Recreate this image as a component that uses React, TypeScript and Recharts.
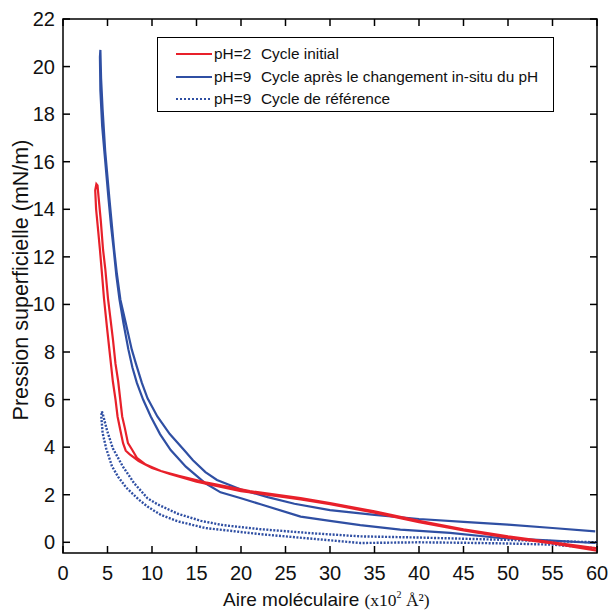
import { LineChart, Line, XAxis, YAxis, ReferenceArea } from "recharts";

// pH=2, cycle initial (compression then expansion)
const redX = [60, 55, 50, 45, 40, 35, 30, 26.7, 21, 16, 13, 11, 9.3, 8.3, 7.75, 7.3, 6.95, 6.65, 6.2, 5.9, 5.62, 5.3, 5.05, 4.75, 4.5, 4.25, 4.0, 3.88, 3.75,
  3.62, 3.72, 3.95, 4.15, 4.4, 4.6, 4.95, 5.3, 5.6, 5.9, 6.13, 6.45, 6.75, 7.05, 7.5, 8.5, 10, 12, 15, 20, 26.7, 30, 35, 40, 45, 50, 55, 60];
const redY = [-0.25, 0.0, 0.25, 0.55, 0.9, 1.3, 1.65, 1.86, 2.15, 2.52, 2.8, 3.0, 3.27, 3.55, 3.9, 4.17, 4.8, 5.29, 6.77, 7.5, 8.5, 9.5, 10.27, 11.5, 12.3, 13.5, 14.5, 15.0, 15.06,
  14.8, 14.0, 13.1, 12.3, 11.2, 10.27, 9.0, 7.8, 6.77, 6.0, 5.29, 4.7, 4.17, 3.85, 3.7, 3.42, 3.12, 2.87, 2.55, 2.15, 1.8, 1.6, 1.25, 0.85, 0.5, 0.2, -0.05, -0.35];

// pH=9, cycle après le changement in-situ du pH
const blueX = [59.8, 55, 50, 45, 40, 35, 30, 26, 23, 20, 17.3, 16, 14.6, 13.6, 12, 10.6, 9.5, 8.86, 8.2, 7.73, 7.0, 6.45, 6.05, 5.75, 5.45, 5.2, 4.74, 4.45, 4.28, 4.2,
  4.15, 4.2, 4.4, 4.68, 5.1, 5.4, 5.7, 6.0, 6.35, 6.8, 7.35, 7.8, 8.3, 9.0, 9.86, 10.9, 12.1, 13.8, 16, 17.7, 20, 22.2, 26.7, 30, 33.4, 37.9, 43.5, 49.1, 55, 59.8];
const blueY = [0.46, 0.6, 0.74, 0.86, 0.98, 1.15, 1.35, 1.62, 1.9, 2.22, 2.62, 2.95, 3.45, 3.88, 4.55, 5.29, 6.05, 6.7, 7.5, 8.1, 9.3, 10.2, 11.3, 12.3, 13.5, 14.5, 16.45, 18.2, 19.5, 20.7,
  20.4, 19, 17.5, 16.3, 14.5, 13.3, 12.3, 11.2, 10.2, 9.2, 8.1, 7.35, 6.7, 6.0, 5.29, 4.55, 3.88, 3.18, 2.48, 2.1, 1.85, 1.6, 1.08, 0.9, 0.72, 0.53, 0.4, 0.18, 0.07, -0.03];

// pH=9, cycle de référence
const refX = [60, 55, 50, 45, 40, 33.4, 28, 22.2, 18, 15.5, 12.9, 10.6, 9.5, 8.0, 6.7, 5.6, 4.95, 4.5, 4.37,
  4.3, 4.45, 4.85, 5.5, 6.2, 7.1, 8.5, 9.5, 11, 12.9, 16, 22.2, 28, 33.4, 40, 45, 50, 55, 60];
const refY = [0.0, 0.05, 0.1, 0.15, 0.2, 0.25, 0.38, 0.55, 0.72, 0.9, 1.2, 1.6, 1.85, 2.48, 3.2, 3.95, 4.7, 5.35, 5.5,
  5.3, 4.6, 3.95, 3.2, 2.75, 2.3, 1.8, 1.5, 1.15, 0.88, 0.6, 0.34, 0.15, -0.03, 0.0, -0.02, -0.05, -0.1, -0.25];

const xTicks = [0, 5, 10, 15, 20, 25, 30, 35, 40, 45, 50, 55, 60];
const yTicks = [0, 2, 4, 6, 8, 10, 12, 14, 16, 18, 20, 22];

const RED = "#e8202a";
const BLUE = "#2f4fa3";
const FONT = "'Liberation Sans', Arial, sans-serif";
const SERIF = "'Liberation Serif', 'Times New Roman', serif";

// plot box
const L = 63;
const R = 597;
const T = 19;
const B = 553;
const TICK = 7;

const toPoints = (xs: number[], ys: number[]) => xs.map((x, i) => ({ x, y: ys[i] }));

const redData = toPoints(redX, redY);
const blueData = toPoints(blueX, blueY);
const refData = toPoints(refX, refY);

const legendItems = [
  { ph: "pH=2", text: "Cycle initial", color: RED, dash: undefined },
  { ph: "pH=9", text: "Cycle après le changement in-situ du pH", color: BLUE, dash: undefined },
  { ph: "pH=9", text: "Cycle de référence", color: BLUE, dash: "2 2" },
];

const XTick = (props: any) => {
  const { x, payload } = props;
  return (
    <g>
      <line x1={x} x2={x} y1={B} y2={B - TICK} stroke="#000" strokeWidth={1.5} />
      <line x1={x} x2={x} y1={T} y2={T + TICK} stroke="#000" strokeWidth={1.5} />
      <text x={x} y={580} textAnchor="middle" fontSize={20} fontFamily={FONT} fill="#111">
        {payload.value}
      </text>
    </g>
  );
};

const YTick = (props: any) => {
  const { y, payload } = props;
  return (
    <g>
      <line x1={L} x2={L + TICK} y1={y} y2={y} stroke="#000" strokeWidth={1.5} />
      <line x1={R - TICK} x2={R} y1={y} y2={y} stroke="#000" strokeWidth={1.5} />
      <text x={55} y={y + 7} textAnchor="end" fontSize={20} fontFamily={FONT} fill="#111">
        {payload.value}
      </text>
    </g>
  );
};

const LegendBox = () => (
  <div
    style={{
      position: "absolute",
      left: 157,
      top: 37,
      width: 397,
      height: 75,
      border: "1px solid #000",
      background: "#fff",
      fontFamily: FONT,
      fontSize: 15.4,
      color: "#111",
      paddingTop: 5,
      boxSizing: "border-box",
    }}
  >
    {legendItems.map((it, i) => (
      <div key={i} style={{ display: "flex", alignItems: "center", height: 22.5 }}>
        <svg width={56} height={10} style={{ flex: "none" }}>
          <line x1={18} x2={54} y1={5} y2={5} stroke={it.color} strokeWidth={2} strokeDasharray={it.dash} />
        </svg>
        <span style={{ width: 47, flex: "none" }}>{it.ph}</span>
        <span>{it.text}</span>
      </div>
    ))}
  </div>
);

export default function App() {
  return (
    <div style={{ position: "absolute", left: 0, top: 0, width: 609, height: 612, background: "#fff" }}>
      <LineChart width={609} height={612} margin={{ top: T, right: 609 - R, bottom: 0, left: 0 }}>
        <XAxis
          type="number"
          dataKey="x"
          domain={[0, 60]}
          ticks={xTicks}
          tick={<XTick />}
          tickLine={false}
          axisLine={false}
          height={612 - B}
          allowDataOverflow
          label={{
            content: () => (
              <text x={223} y={606} fontSize={19} fill="#111">
                <tspan fontFamily={FONT}>Aire moléculaire </tspan>
                <tspan fontFamily={SERIF} fontSize={17.5}>(x10</tspan>
                <tspan fontFamily={SERIF} fontSize={10} dy={-8}>2</tspan>
                <tspan fontFamily={SERIF} fontSize={17.5} dy={8}> Å²)</tspan>
              </text>
            ),
          }}
        />
        <YAxis
          type="number"
          domain={[-0.45, 22]}
          ticks={yTicks}
          tick={<YTick />}
          tickLine={false}
          axisLine={false}
          width={L}
          allowDataOverflow
          label={{
            content: () => (
              <text
                x={28}
                y={280}
                transform="rotate(-90 28 280)"
                textAnchor="middle"
                fontSize={21.5}
                fontFamily={FONT}
                fill="#111"
              >
                Pression superficielle (mN/m)
              </text>
            ),
          }}
        />
        <ReferenceArea x1={0} x2={60} y1={-0.45} y2={22} fill="none" stroke="#000" strokeWidth={1.5} />
        <Line
          data={refData}
          dataKey="y"
          type="linear"
          stroke={BLUE}
          strokeWidth={2.4}
          strokeDasharray="2 1.5"
          dot={false}
          isAnimationActive={false}
        />
        <Line data={blueData} dataKey="y" type="linear" stroke={BLUE} strokeWidth={2.2} dot={false} isAnimationActive={false} />
        <Line data={redData} dataKey="y" type="linear" stroke={RED} strokeWidth={2.2} dot={false} isAnimationActive={false} />
      </LineChart>
      <LegendBox />
    </div>
  );
}
